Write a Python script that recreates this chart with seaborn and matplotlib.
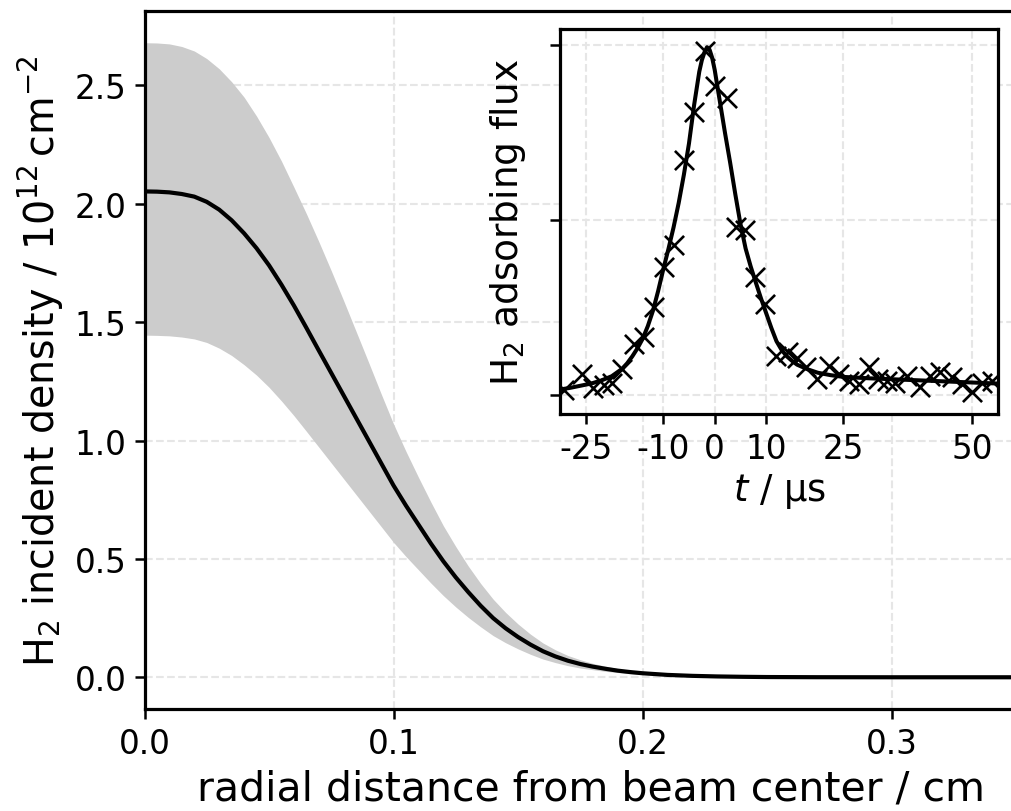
import matplotlib
matplotlib.use("Agg")
import matplotlib.pyplot as plt
import seaborn as sns
import pandas as pd

# ---------------- main panel data ----------------
radius_cm = [0.000, 0.005, 0.010, 0.015, 0.020, 0.025, 0.030, 0.035, 0.040, 0.045,
             0.050, 0.055, 0.060, 0.065, 0.070, 0.075, 0.080, 0.085, 0.090, 0.095,
             0.100, 0.105, 0.110, 0.115, 0.120, 0.125, 0.130, 0.135, 0.140, 0.145,
             0.150, 0.155, 0.160, 0.165, 0.170, 0.175, 0.180, 0.185, 0.190, 0.195,
             0.200, 0.210, 0.220, 0.230, 0.240, 0.250, 0.270, 0.300, 0.360]
density_mid = [2.052, 2.051, 2.048, 2.041, 2.030, 2.008, 1.975, 1.930, 1.875, 1.812,
               1.740, 1.658, 1.570, 1.476, 1.380, 1.285, 1.190, 1.095, 1.000, 0.905,
               0.810, 0.725, 0.645, 0.565, 0.490, 0.422, 0.360, 0.302, 0.250, 0.207,
               0.170, 0.138, 0.110, 0.088, 0.070, 0.056, 0.045, 0.036, 0.028, 0.022,
               0.017, 0.010, 0.006, 0.0035, 0.002, 0.001, 0.0003, 0.000, 0.000]
density_upper = [2.680, 2.679, 2.675, 2.664, 2.645, 2.613, 2.570, 2.515, 2.450, 2.370,
                 2.280, 2.180, 2.070, 1.958, 1.840, 1.717, 1.590, 1.460, 1.330, 1.198,
                 1.070, 0.954, 0.845, 0.740, 0.640, 0.552, 0.470, 0.396, 0.330, 0.274,
                 0.225, 0.182, 0.145, 0.116, 0.092, 0.074, 0.059, 0.047, 0.037, 0.029,
                 0.022, 0.013, 0.008, 0.0045, 0.0026, 0.0013, 0.0004, 0.000, 0.000]
density_lower = [1.445, 1.444, 1.442, 1.437, 1.429, 1.414, 1.390, 1.359, 1.320, 1.276,
                 1.225, 1.167, 1.105, 1.039, 0.972, 0.905, 0.838, 0.771, 0.704, 0.637,
                 0.570, 0.510, 0.454, 0.398, 0.345, 0.297, 0.253, 0.213, 0.176, 0.146,
                 0.120, 0.097, 0.077, 0.062, 0.049, 0.039, 0.032, 0.025, 0.020, 0.015,
                 0.012, 0.007, 0.004, 0.0025, 0.0014, 0.0007, 0.0002, 0.000, 0.000]
main_xticks = [0.0, 0.1, 0.2, 0.3]
main_yticks = [0.0, 0.5, 1.0, 1.5, 2.0, 2.5]

# ---------------- inset data ----------------
t_meas = [-29.3, -25.7, -23.7, -21.5, -19.9, -18.1, -15.6, -13.8, -11.8, -9.9,
          -7.9, -6.0, -4.1, -1.8, 0.1, 2.4, 4.2, 5.9, 7.9, 9.8,
          11.9, 14.3, 16.0, 17.8, 19.9, 22.2, 24.1, 26.0, 28.0, 29.9,
          31.8, 33.5, 35.1, 37.3, 39.9, 41.9, 43.8, 46.1, 48.0, 49.9,
          51.9, 53.8]
flux_meas = [0.015, 0.061, 0.020, 0.030, 0.037, 0.075, 0.148, 0.168, 0.253, 0.367,
             0.429, 0.672, 0.811, 0.983, 0.883, 0.849, 0.481, 0.472, 0.338, 0.262,
             0.114, 0.125, 0.106, 0.082, 0.047, 0.085, 0.061, 0.042, 0.032, 0.080,
             0.047, 0.042, 0.037, 0.056, 0.023, 0.056, 0.066, 0.052, 0.032, 0.009,
             0.037, 0.042]
t_fit = [-30, -28, -26, -24, -22, -20, -18, -17, -16, -15, -14, -13, -12, -11,
         -10, -9, -8, -7, -6, -5, -4, -3, -2.5, -2, -1.5, -1, -0.5, 0, 1, 2, 3,
         4, 5, 6, 7, 8, 9, 10, 11, 12, 13, 14, 15, 16, 18, 20, 22.5, 25, 30,
         35, 40, 45, 50, 55]
flux_fit = [0.017, 0.022, 0.028, 0.034, 0.043, 0.055, 0.076, 0.092, 0.112, 0.135,
            0.162, 0.198, 0.242, 0.298, 0.360, 0.418, 0.480, 0.550, 0.630, 0.720,
            0.830, 0.925, 0.958, 0.980, 0.995, 0.988, 0.965, 0.930, 0.840, 0.750,
            0.665, 0.575, 0.490, 0.420, 0.368, 0.322, 0.277, 0.235, 0.193, 0.155,
            0.130, 0.112, 0.099, 0.088, 0.075, 0.065, 0.058, 0.053, 0.049, 0.046,
            0.043, 0.040, 0.037, 0.034]
inset_xticks = [-25, -10, 0, 10, 25, 50]
inset_xticklabels = ["-25", "-10", "0", "10", "25", "50"]
inset_yticks = [0.0, 0.5, 1.0]

# ---------------- style ----------------
sns.set_style("ticks")
plt.rcParams["font.family"] = ["DejaVu Sans"]
plt.rcParams["mathtext.fontset"] = "dejavusans"
plt.rcParams["axes.linewidth"] = 2.3
plt.rcParams["xtick.major.width"] = 1.8
plt.rcParams["ytick.major.width"] = 1.8
plt.rcParams["xtick.major.size"] = 7
plt.rcParams["ytick.major.size"] = 7
for key in ["xtick.color", "ytick.color", "axes.edgecolor", "text.color",
            "axes.labelcolor", "xtick.labelcolor", "ytick.labelcolor"]:
    plt.rcParams[key] = "black"

fig = plt.figure(figsize=(10.11, 8.12), dpi=100)
W, H = 1011.0, 812.0

# main axes (right edge extends past the figure edge, as in the reference)
ax = fig.add_axes([144.5 / W, (H - 710) / H, 893 / W, 698 / H])
df_main = pd.DataFrame({"r": radius_cm, "mid": density_mid,
                        "lo": density_lower, "hi": density_upper})
ax.fill_between(df_main["r"], df_main["lo"], df_main["hi"],
                color="#cccccc", linewidth=0, zorder=1)
sns.lineplot(data=df_main, x="r", y="mid", color="black", linewidth=3.0,
             sort=False, estimator=None, ax=ax, zorder=3)
ax.set_xlim(0, 0.3586)
ax.set_ylim(-0.134, 2.814)
ax.set_xticks(main_xticks)
ax.set_yticks(main_yticks)
ax.tick_params(labelsize=23.5, pad=6)
ax.grid(True, linestyle="--", color="#e6e6e6", linewidth=1.5, zorder=0)
ax.set_axisbelow(True)
ax.spines["right"].set_visible(False)
ax.set_xlabel("radial distance from beam center / cm", fontsize=29.5, labelpad=6)
ax.set_ylabel(r"H$_2$ incident density / 10$^{12}\,$cm$^{-2}$", fontsize=28.5, labelpad=6)

# inset axes
axi = fig.add_axes([560 / W, (H - 415) / H, 438 / W, 385 / H])
axi.set_facecolor("white")
df_fit = pd.DataFrame({"t": t_fit, "v": flux_fit})
df_meas = pd.DataFrame({"t": t_meas, "v": flux_meas})
sns.lineplot(data=df_fit, x="t", y="v", color="black", linewidth=2.9,
             sort=False, estimator=None, ax=axi, zorder=3)
sns.scatterplot(data=df_meas, x="t", y="v", marker="x", color="black",
                s=190, linewidth=1.9, ax=axi, zorder=4)
axi.set_xlim(-30.06, 55.04)
axi.set_ylim(-0.053, 1.047)
axi.set_xticks(inset_xticks)
axi.set_xticklabels(inset_xticklabels)
axi.set_yticks(inset_yticks)
axi.set_yticklabels([])
axi.tick_params(labelsize=23.5, pad=6)
axi.grid(True, linestyle="--", color="#e6e6e6", linewidth=1.5, zorder=0)
axi.set_axisbelow(True)
axi.set_xlabel(r"$t$ / µs", fontsize=26.5, labelpad=4)
axi.set_ylabel(r"H$_2$ adsorbing flux", fontsize=27, labelpad=10)

fig.savefig("out.png", dpi=100)
